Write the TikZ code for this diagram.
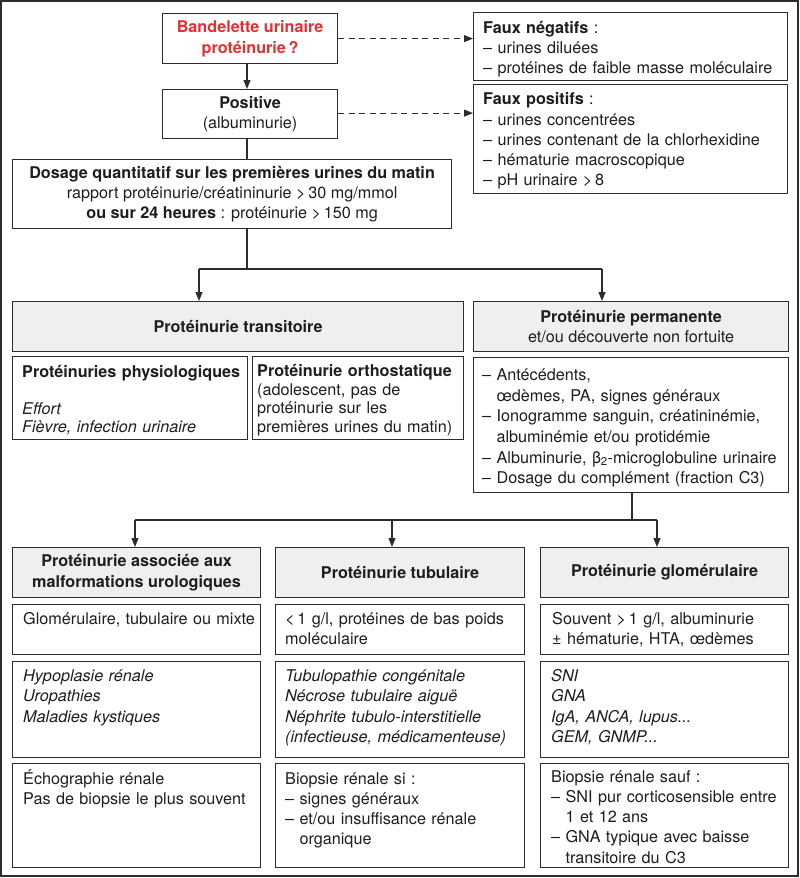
\documentclass[tikz,border=0pt]{standalone}
\usepackage{fontspec}
\setmainfont{TeX Gyre Heros}
\usetikzlibrary{arrows.meta}
\definecolor{frame}{RGB}{45,45,45}
\definecolor{txt}{RGB}{30,30,30}
\definecolor{hdrfill}{RGB}{239,239,239}
\definecolor{redtxt}{RGB}{228,48,50}
\newcommand{\indt}{\hphantom{–~}}
\begin{document}
\begin{tikzpicture}[x=1pt,y=-1pt,
  every node/.style={font=\fontsize{16.2pt}{20.3pt}\selectfont, text=txt},
  box/.style={draw=frame, line width=1.2pt, inner sep=0pt, anchor=north west, fill=white},
  hdr/.style={box, fill=hdrfill},
  ctext/.style={align=center, inner sep=0pt},
  ltext/.style={align=left, inner sep=0pt, text width=300pt},
  conn/.style={draw=frame, line width=1.1pt},
  arr/.style={conn, -{Triangle[length=9pt,width=7pt]}},
  dasharr/.style={arr, dash pattern=on 6pt off 4.5pt}
]
\useasboundingbox (0,0) rectangle (800,878);
\draw[frame, line width=1.5pt] (1,1) rectangle (798,876);

% top boxes
\node[box, minimum width=175pt, minimum height=50pt] (band) at (162,13) {};
\node[ctext, text=redtxt, font=\fontsize{16.2pt}{20.3pt}\selectfont\bfseries] at (band.center) {Bandelette urinaire\\protéinurie\,?};
\node[box, minimum width=175pt, minimum height=49pt] (pos) at (162,89) {};
\node[ctext] at (pos.center) {\textbf{Positive}\\(albuminurie)};
\node[box, minimum width=439pt, minimum height=69pt] (dos) at (12,159) {};
\node[ctext] at (dos.center) {\textbf{Dosage quantitatif sur les premières urines du matin}\\rapport protéinurie/créatininurie >\,30 mg/mmol\\\textbf{ou sur 24 heures} : protéinurie >\,150 mg};

\node[box, minimum width=314pt, minimum height=68pt] (fn) at (473,12) {};
\node[ltext, anchor=west] at ([xshift=10pt,yshift=-2.5pt]fn.west) {\textbf{Faux négatifs} :\\– urines diluées\\– protéines de faible masse moléculaire};
\node[box, minimum width=314pt, minimum height=109pt] (fp) at (473,84) {};
\node[ltext, anchor=west] at ([xshift=10pt,yshift=-2pt]fp.west) {\textbf{Faux positifs} :\\– urines concentrées\\– urines contenant de la chlorhexidine\\– hématurie macroscopique\\– pH urinaire >\,8};

% second level
\node[hdr, minimum width=451pt, minimum height=50pt] (trans) at (12,301) {};
\node[ctext] at (trans.center) {\textbf{Protéinurie transitoire}};
\node[box, minimum width=235pt, minimum height=83pt] (phys) at (12,356) {};
\node[ltext, anchor=west, font=\fontsize{16.2pt}{18.6pt}\selectfont] at ([xshift=10pt,yshift=-2pt]phys.west) {\textbf{Protéinuries physiologiques}\\\strut\\\textit{Effort}\\\textit{Fièvre, infection urinaire}};
\node[box, minimum width=211pt, minimum height=83pt] (orth) at (252,356) {};
\node[ltext, anchor=west, font=\fontsize{16.2pt}{18.8pt}\selectfont] at ([xshift=5pt,yshift=-2pt]orth.west) {\textbf{Protéinurie orthostatique}\\(adolescent, pas de\\protéinurie sur les\\premières urines du matin)};

\node[hdr, minimum width=315pt, minimum height=50pt] (perm) at (473,301) {};
\node[ctext] at (perm.center) {\textbf{Protéinurie permanente}\\et/ou découverte non fortuite};
\node[box, minimum width=315pt, minimum height=135pt] (plist) at (473,357) {};
\node[ltext, anchor=west, font=\fontsize{16.2pt}{20.6pt}\selectfont] at ([xshift=9pt,yshift=-3pt]plist.west) {– Antécédents,\\\indt œdèmes, PA, signes généraux\\– Ionogramme sanguin, créatininémie,\\\indt albuminémie et/ou protidémie\\– Albuminurie, β\textsubscript{2}-microglobuline urinaire\\– Dosage du complément (fraction C3)};

% third level headers
\node[hdr, minimum width=248pt, minimum height=50pt] (assoc) at (12,547) {};
\node[ctext] at (assoc.center) {\textbf{Protéinurie associée aux}\\\textbf{malformations urologiques}};
\node[hdr, minimum width=249pt, minimum height=50pt] (tub) at (275,547) {};
\node[ctext] at (tub.center) {\textbf{Protéinurie tubulaire}};
\node[hdr, minimum width=248pt, minimum height=50pt] (glom) at (540,547) {};
\node[ctext] at (glom.center) {\textbf{Protéinurie glomérulaire}};

% row 2
\node[box, minimum width=248pt, minimum height=50pt] (a2) at (12,604) {};
\node[ltext, anchor=base west] at ([xshift=11pt,yshift=-20pt]a2.north west) {Glomérulaire, tubulaire ou mixte};
\node[box, minimum width=249pt, minimum height=50pt] (t2) at (275,604) {};
\node[ltext, anchor=base west] at ([xshift=10pt,yshift=-20pt]t2.north west) {<\,1 g/l, protéines de bas poids\\moléculaire};
\node[box, minimum width=248pt, minimum height=50pt] (g2) at (540,604) {};
\node[ltext, anchor=base west] at ([xshift=12pt,yshift=-20pt]g2.north west) {Souvent >\,1 g/l, albuminurie\\± hématurie, HTA, œdèmes};

% row 3
\node[box, minimum width=248pt, minimum height=96pt] (a3) at (12,661) {};
\node[ltext, anchor=base west, font=\fontsize{16.2pt}{20.6pt}\selectfont\itshape] at ([xshift=11pt,yshift=-20pt]a3.north west) {Hypoplasie rénale\\Uropathies\\Maladies kystiques};
\node[box, minimum width=249pt, minimum height=96pt] (t3) at (275,661) {};
\node[ltext, anchor=base west, font=\fontsize{16.2pt}{20.6pt}\selectfont\itshape] at ([xshift=10pt,yshift=-20pt]t3.north west) {Tubulopathie congénitale\\Nécrose tubulaire aiguë\\Néphrite tubulo-interstitielle\\(infectieuse, médicamenteuse)};
\node[box, minimum width=248pt, minimum height=96pt] (g3) at (540,661) {};
\node[ltext, anchor=base west, font=\fontsize{16.2pt}{20.6pt}\selectfont\itshape] at ([xshift=11pt,yshift=-20pt]g3.north west) {SNI\\GNA\\IgA, ANCA, lupus...\\GEM, GNMP...};

% row 4
\node[box, minimum width=248pt, minimum height=104pt] (a4) at (12,763) {};
\node[ltext, anchor=base west] at ([xshift=11pt,yshift=-21pt]a4.north west) {Échographie rénale\\Pas de biopsie le plus souvent};
\node[box, minimum width=249pt, minimum height=104pt] (t4) at (275,763) {};
\node[ltext, anchor=base west] at ([xshift=10pt,yshift=-21pt]t4.north west) {Biopsie rénale si :\\– signes généraux\\– et/ou insuffisance rénale\\\indt organique};
\node[box, minimum width=248pt, minimum height=104pt] (g4) at (540,763) {};
\node[ltext, anchor=base west] at ([xshift=11pt,yshift=-19pt]g4.north west) {Biopsie rénale sauf :\\– SNI pur corticosensible entre\\\indt 1 et 12 ans\\– GNA typique avec baisse\\\indt transitoire du C3};

% connectors
\coordinate (x1) at (247,0);
\draw[arr] (band.south -| x1) -- (pos.north -| x1);
\draw[conn] (pos.south -| x1) -- (dos.north -| x1);
\draw[dasharr] (band.east) -- (band.east -| fn.west);
\draw[dasharr] ([yshift=1pt]pos.east) -- ([yshift=1pt]pos.east -| fp.west);

\coordinate (j1) at (247,269);
\coordinate (tl) at (199,269);
\coordinate (tr) at (602,269);
\draw[conn] (dos.south -| j1) -- (j1);
\draw[conn] (tl) -- (tr);
\draw[arr] (tl) -- (tl |- trans.north);
\draw[arr] (tr) -- (tr |- perm.north);

\coordinate (j2) at (632,520);
\coordinate (bl) at (135,520);
\coordinate (bm) at (392,520);
\coordinate (br) at (657,520);
\draw[conn] (plist.south -| j2) -- (j2);
\draw[conn] (bl) -- (br);
\draw[arr] (bl) -- (bl |- assoc.north);
\draw[arr] (bm) -- (bm |- tub.north);
\draw[arr] (br) -- (br |- glom.north);
\end{tikzpicture}
\end{document}
